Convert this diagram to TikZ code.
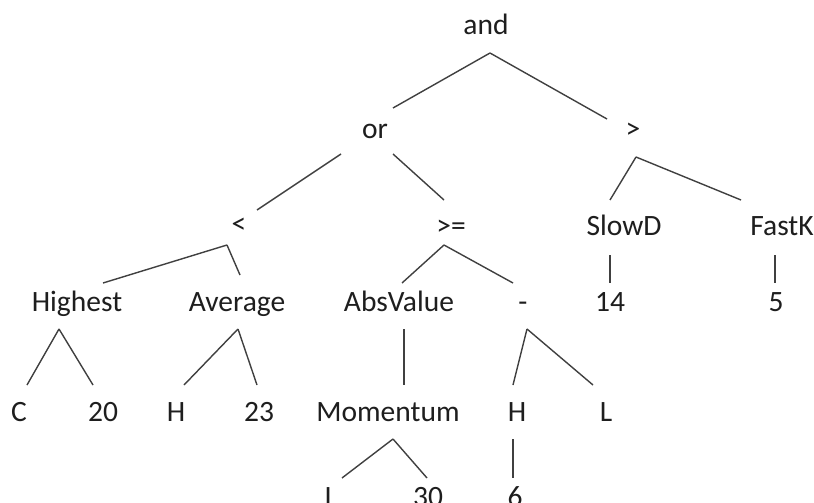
\documentclass[tikz,border=0pt]{standalone}
\usepackage{fontspec}
\setmainfont{Carlito}
\definecolor{txt}{HTML}{1E1E1E}
\definecolor{ln}{HTML}{404040}
\newcommand\myedge[4]{\draw[conn] ([shift={#2}]#1.base) -- ([shift={#4}]#3.base);}
\begin{document}
\begin{tikzpicture}[x=1pt,y=1pt,
  lbl/.style={anchor=base,inner sep=0pt,text=txt,font=\fontsize{29.5}{34}\selectfont},
  conn/.style={draw=ln,line width=1.4pt}]
\useasboundingbox (0,0) rectangle (814,-503);
\clip (0,0) rectangle (814,-503);
\fill[white] (0,0) rectangle (814,-503);
\node[lbl] (and) at (486,-35) {and};
\node[lbl] (or) at (375,-138) {or};
\node[lbl] (gt) at (633,-138) {>};
\node[lbl] (lt) at (239,-233) {<};
\node[lbl] (ge) at (451,-235) {>=};
\node[lbl] (slowd) at (624,-235) {SlowD};
\node[lbl] (fastk) at (782,-235) {FastK};
\node[lbl] (highest) at (77,-311) {Highest};
\node[lbl] (average) at (237,-311) {Average};
\node[lbl] (absv) at (399,-311) {AbsValue};
\node[lbl] (minus) at (523,-311) {-};
\node[lbl] (n14) at (610,-311) {14};
\node[lbl] (n5) at (776,-311) {5};
\node[lbl] (c) at (19,-421) {C};
\node[lbl] (n20) at (103,-421) {20};
\node[lbl] (h1) at (176,-421) {H};
\node[lbl] (n23) at (259,-421) {23};
\node[lbl] (mom) at (388,-421) {Momentum};
\node[lbl] (h2) at (517,-421) {H};
\node[lbl] (l1) at (606,-421) {L};
\node[lbl] (l2) at (331,-506) {L};
\node[lbl] (n30) at (428,-506) {30};
\node[lbl] (n6) at (515,-506) {6};
\myedge{and}{(4,-18)}{or}{(18,30)}
\myedge{and}{(4,-18)}{gt}{(-26,19)}
\myedge{or}{(-34,-16)}{lt}{(18,23)}
\myedge{or}{(18,-16)}{ge}{(-7,35)}
\myedge{gt}{(3,-19)}{slowd}{(-14,35)}
\myedge{gt}{(3,-19)}{fastk}{(-41,35)}
\myedge{lt}{(-12,-12)}{highest}{(26,28)}
\myedge{lt}{(-12,-12)}{average}{(3,36)}
\myedge{ge}{(-7,-10)}{absv}{(3,28)}
\myedge{ge}{(-7,-10)}{minus}{(-10,28)}
\myedge{slowd}{(-14,-20)}{n14}{(0,28)}
\myedge{fastk}{(-7,-20)}{n5}{(-1,28)}
\myedge{highest}{(-18,-18)}{c}{(8,36)}
\myedge{highest}{(-18,-18)}{n20}{(-10,36)}
\myedge{average}{(1,-18)}{h1}{(8,36)}
\myedge{average}{(1,-18)}{n23}{(-2,36)}
\myedge{absv}{(5,-18)}{mom}{(16,36)}
\myedge{minus}{(4,-18)}{h2}{(-4,36)}
\myedge{minus}{(4,-18)}{l1}{(-13,36)}
\myedge{mom}{(5,-18)}{l2}{(11,28)}
\myedge{mom}{(5,-18)}{n30}{(-1,28)}
\myedge{h2}{(-4,-18)}{n6}{(-2,28)}
\end{tikzpicture}
\end{document}
